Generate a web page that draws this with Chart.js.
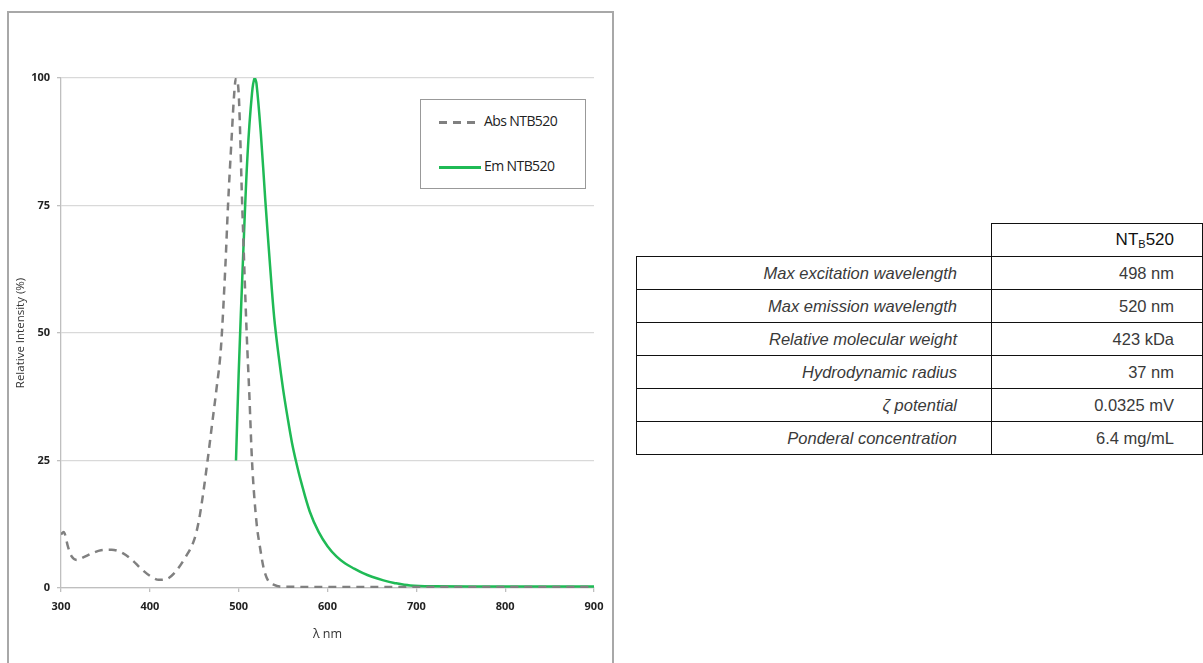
<!DOCTYPE html>
<html>
<head>
<meta charset="utf-8">
<script src="https://cdn.jsdelivr.net/npm/chart.js@4/dist/chart.umd.min.js"></script>
<style>
  html, body { margin: 0; padding: 0; background: #fff; }
  body { width: 1203px; height: 663px; position: relative; overflow: hidden; font-family: "Liberation Sans", Arial, sans-serif; }
  #frame { position: absolute; left: 7px; top: 11px; width: 607px; height: 660px; border: 2px solid #a8a8a8; box-sizing: border-box; }
  #frame canvas { position: absolute; left: 0; top: 0; }
  #legend { position: absolute; left: 411px; top: 86px; width: 166px; height: 90px; border: 1.5px solid #999; box-sizing: border-box; background: #fff;
            font-family: "Open Sans", sans-serif; font-size: 14px; color: #222; letter-spacing: -0.6px; }
  #legend .row { position: absolute; left: 18px; height: 18px; line-height: 18px; white-space: nowrap; }
  #legend .swatch { display: inline-block; width: 42px; height: 2.5px; vertical-align: middle; margin-right: 3px; }
  table { position: absolute; left: 636px; top: 223px; border-collapse: collapse; font-size: 16.5px; color: #3a3a3a; }
  td { border: 1.5px solid #111; height: 32px; padding: 0; text-align: right; }
  td.lab { width: 320px; padding-right: 34px; font-style: italic; }
  td.val { width: 182px; padding-right: 28px; }
  td.blank { border: none; border-bottom: 1.5px solid #111; }
  td.head { color: #111; font-size: 17px; }
  sub { font-size: 11px; vertical-align: -3px; }
</style>
</head>
<body>
<div id="frame">
  <canvas id="spectrum" width="607" height="660"></canvas>
  <div id="legend"></div>
</div>
<table id="props"></table>
<script>
// absorption spectrum (nm, %)
var absWavelength = [300, 303, 308, 312, 318, 325, 335, 345, 357, 370, 380, 390, 400, 410, 418, 428, 440, 450, 455, 460, 465, 470, 475, 480, 485, 488, 492, 495, 497, 500, 504, 509, 512, 515, 520, 524, 528, 533, 540, 546, 600, 700, 800, 900];
var absIntensity  = [10.5, 11, 8, 6.2, 5.5, 6, 6.8, 7.4, 7.5, 6.8, 5.5, 3.8, 2.4, 1.6, 1.7, 3, 6, 9.5, 13, 18.5, 25, 32, 39, 47, 63, 75, 88, 97, 100, 97, 75, 50, 38, 25, 13, 8, 4, 1.5, 0.6, 0.3, 0.2, 0.2, 0.2, 0.2];

// emission spectrum (nm, %)
var emWavelength = [497, 500, 505, 510, 515, 518, 520, 525, 530, 535, 540, 545, 550, 555, 560, 565, 570, 580, 590, 600, 610, 620, 630, 640, 650, 663, 675, 693, 720, 800, 900];
var emIntensity  = [25, 42, 65, 85, 97, 100, 99, 89, 76, 64, 53, 45.5, 39, 33.5, 28.5, 24.5, 21, 15, 11, 8.2, 6.2, 4.8, 3.8, 2.9, 2.2, 1.5, 1, 0.5, 0.35, 0.3, 0.3];

var seriesLabels = ['Abs NTB520', 'Em NTB520'];
var xTicks = [300, 400, 500, 600, 700, 800, 900];
var yTicks = [0, 25, 50, 75, 100];

var propNames  = ['Max excitation wavelength', 'Max emission wavelength', 'Relative molecular weight', 'Hydrodynamic radius', '\u03B6 potential', 'Ponderal concentration'];
var propValues = ['498 nm', '520 nm', '423 kDa', '37 nm', '0.0325 mV', '6.4 mg/mL'];

function toPoints(xs, ys) {
  return xs.map(function (x, i) { return { x: x, y: ys[i] }; });
}

var tickFont = { family: 'Open Sans', size: 11, weight: 'bold' };

var chart = new Chart(document.getElementById('spectrum'), {
  type: 'line',
  data: {
    datasets: [{
      label: seriesLabels[0],
      data: toPoints(absWavelength, absIntensity),
      borderColor: '#808080',
      borderWidth: 2.5,
      borderDash: [8, 6],
      pointRadius: 0,
      cubicInterpolationMode: 'monotone'
    }, {
      label: seriesLabels[1],
      data: toPoints(emWavelength, emIntensity),
      borderColor: '#1fba55',
      borderWidth: 2.5,
      pointRadius: 0,
      tension: 0.35
    }]
  },
  options: {
    responsive: false,
    animation: false,
    layout: { padding: { top: 65, right: 22, left: 0, bottom: 31 } },
    plugins: { legend: { display: false }, tooltip: { enabled: false } },
    scales: {
      x: {
        type: 'linear',
        min: 300,
        max: 900,
        afterBuildTicks: function (s) { s.ticks = xTicks.map(function (v) { return { value: v }; }); },
        afterFit: function (s) { s.height = 54; },
        grid: { drawOnChartArea: false, tickLength: 4, tickColor: '#bfbfbf', lineWidth: 1.3 },
        border: { color: '#bfbfbf', width: 1.3 },
        ticks: { font: tickFont, color: '#222', padding: 8, maxRotation: 0 },
        title: { display: true, text: '\u03BB nm', font: { family: 'Open Sans', size: 12.5 }, color: '#333', padding: { top: 2, bottom: 0 } }
      },
      y: {
        min: 0,
        max: 100,
        afterBuildTicks: function (s) { s.ticks = yTicks.map(function (v) { return { value: v }; }); },
        afterFit: function (s) { s.width = 52; },
        grid: { color: '#d9d9d9', tickLength: 4, tickColor: '#bfbfbf', lineWidth: 1.3 },
        border: { color: '#bfbfbf', width: 1.3 },
        ticks: { font: tickFont, color: '#222', padding: 7 },
        title: { display: true, text: 'Relative Intensity (%)', font: { family: 'Open Sans', size: 11.5 }, color: '#333', padding: { top: 5, bottom: 0 } }
      }
    }
  }
});

// legend box inside the plot
var legend = document.getElementById('legend');
chart.data.datasets.forEach(function (ds, i) {
  var row = document.createElement('div');
  row.className = 'row';
  row.style.top = (i === 0 ? 12 : 57) + 'px';
  var sw = document.createElement('span');
  sw.className = 'swatch';
  if (ds.borderDash) {
    sw.style.background = 'repeating-linear-gradient(90deg, ' + ds.borderColor + ' 0 8px, transparent 8px 14px)';
  } else {
    sw.style.background = ds.borderColor;
  }
  row.appendChild(sw);
  row.appendChild(document.createTextNode(ds.label));
  legend.appendChild(row);
});

// properties table
var table = document.getElementById('props');
var head = table.insertRow();
var c0 = head.insertCell(); c0.className = 'blank';
var c1 = head.insertCell(); c1.className = 'val head';
c1.innerHTML = 'NT<sub>B</sub>520';
propNames.forEach(function (name, i) {
  var r = table.insertRow();
  var a = r.insertCell(); a.className = 'lab'; a.textContent = name;
  var b = r.insertCell(); b.className = 'val'; b.textContent = propValues[i];
});
</script>
</body>
</html>
